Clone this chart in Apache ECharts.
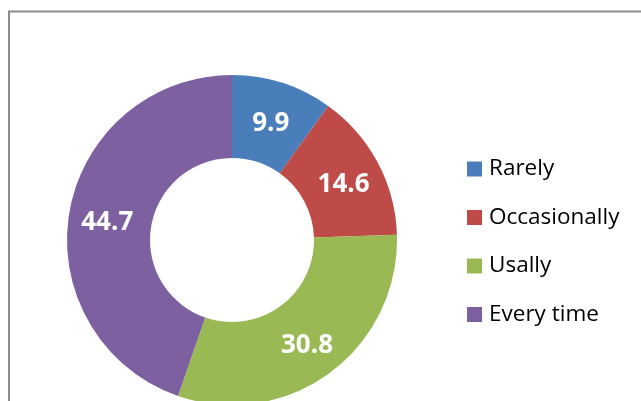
<!DOCTYPE html>
<html><head><meta charset="utf-8">
<script src="https://cdn.jsdelivr.net/npm/echarts@6/dist/echarts.min.js"></script>
<style>html,body{margin:0;padding:0;background:#fff}#c{width:641px;height:401px}</style>
</head><body><div id="c"></div>
<script>
var categories = ['Rarely', 'Occasionally', 'Usally', 'Every time'];
var values = [9.9, 14.6, 30.8, 44.7];
var colors = ['#4a7ebb', '#be4b48', '#98b954', '#7d60a0'];

var chart = echarts.init(document.getElementById('c'), null, {renderer: 'canvas'});
chart.setOption({
  animation: false,
  backgroundColor: '#fff',
  color: colors,
  graphic: [{
    type: 'rect', shape: {x: 9, y: 11.5, width: 700, height: 500},
    style: {fill: 'none', stroke: '#8c8c8c', lineWidth: 2}, silent: true, z: 100
  }],
  legend: {
    orient: 'vertical', left: 462, top: 152.5,
    itemWidth: 15, itemHeight: 15, itemGap: 25.5,
    icon: 'rect',
    textStyle: {fontFamily: 'Open Sans', fontSize: 22.5, color: '#000', lineHeight: 20, padding: [0, 0, 0, 2]},
    data: categories
  },
  series: [{
    type: 'pie',
    center: [232, 240],
    radius: [82, 165],
    startAngle: 90,
    clockwise: true,
    avoidLabelOverlap: false,
    label: {
      show: true, position: 'inside', formatter: '{c}',
      color: '#fff', fontFamily: 'Open Sans', fontWeight: 'bold', fontSize: 26
    },
    labelLayout: function () { return {dy: 4}; },
    labelLine: {show: false},
    emphasis: {disabled: true},
    data: categories.map(function (n, i) { return {name: n, value: values[i]}; })
  }]
});
</script></body></html>
